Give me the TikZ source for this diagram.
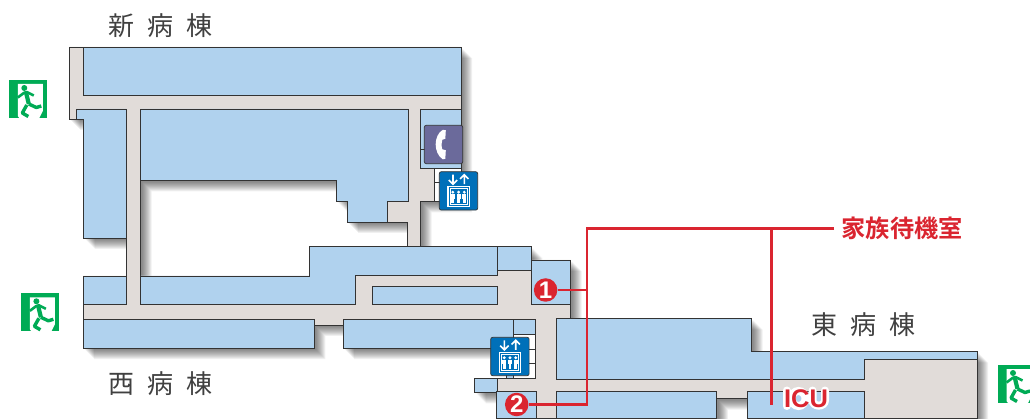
\documentclass[tikz,border=0pt]{standalone}
\usepackage{fontspec}
\newfontfamily\cjk{Noto Sans CJK JP}
\newfontfamily\cjkb{Noto Sans CJK JP Bold}
\newfontfamily\lab{Liberation Sans}[BoldFont={Liberation Sans Bold}]
\definecolor{roomblue}{HTML}{B0D2EE}
\definecolor{floorgray}{HTML}{E1DCD9}
\definecolor{wallc}{HTML}{333333}
\definecolor{markred}{HTML}{DA2530}
\definecolor{liftblue}{HTML}{0070B9}
\definecolor{phonec}{HTML}{6B6A9B}
\definecolor{exitgreen}{HTML}{00AB55}
\newcommand{\silhouette}{(69,47) -- (461,47) -- (461,201.5) -- (420.5,201.5) -- (420.5,246.7) -- (531.4,246.7) -- (531.4,260) -- (570.5,260) -- (570.5,318.3) -- (751.5,318.3) -- (751.5,351.3) -- (977,351.3) -- (977,418) -- (747.3,418) -- (747.3,398.7) -- (716.8,398.7) -- (716.8,418) -- (496.5,418) -- (496.5,392.3) -- (474.6,392.3) -- (474.6,378.3) -- (506,378.3) -- (506,348) -- (343,348) -- (343,325) -- (314.3,325) -- (314.3,348) -- (83,348) -- (83,276) -- (126,276) -- (126,238) -- (83.5,238) -- (83.5,119) -- (69,119) -- cycle
(140.5,180.5) -- (336.7,180.5) -- (336.7,201.5) -- (347,201.5) -- (347,222) -- (407,222) -- (407,246.7) -- (309.6,246.7) -- (309.6,276) -- (140.5,276) -- cycle}
\newcommand{\wingtext}[1]{\spaceskip=13pt\relax #1}
\tikzset{
  x=1pt,y=-1pt,
  room/.style={fill=roomblue,draw=wallc,line width=.9pt},
  hall/.style={fill=floorgray,draw=wallc,line width=.9pt,even odd rule},
  liftbay/.style={fill=white,draw=wallc,line width=.9pt},
  wing/.style={font=\cjk\fontsize{26}{28}\selectfont,text=black!75,inner sep=0pt},
  numdot/.style={circle,fill=markred,text=white,minimum size=23.5pt,inner sep=0pt,font=\lab\bfseries\fontsize{24}{24}\selectfont},
  leader/.style={draw=markred,line width=2.2pt},
  halo/.style={draw=white,line width=8pt,line cap=round},
  pics/exitsign/.style={code={
    \fill[exitgreen] (0,0) rectangle (38,38);
    \fill[white] (8.5,4) -- (33.5,4) -- (33.5,31) -- (30,38) -- (10,38) -- (8.5,36) -- cycle;
    \fill[exitgreen] (15,8) circle (3);
    \draw[exitgreen,line width=4.2pt] (16.5,11.5) -- (19.5,24);
    \draw[exitgreen,line width=2.6pt,line join=round] (8.5,17.5) -- (14.5,13) -- (17.5,12) -- (24.5,15.5);
    \draw[exitgreen,line width=3.4pt,line join=round] (19.5,24) -- (27,27.5) -- (32,26);
    \draw[exitgreen,line width=3.4pt,line join=round] (17.5,25) -- (13,33) -- (19,36.5);
  }},
  pics/lifticon/.style={code={
    \filldraw[fill=liftblue,draw=wallc,line width=.7pt,rounded corners=2pt] (0,0) rectangle (38.4,38.4);
    \draw[white,line width=1.6pt] (13.7,3) -- (13.7,12.5) (9.5,8.3) -- (13.7,12.5) -- (17.9,8.3);
    \draw[white,line width=1.6pt] (25,12.5) -- (25,3) (20.8,7.2) -- (25,3) -- (29.2,7.2);
    \draw[white,line width=1.2pt] (8.7,15) rectangle (30,35);
    \draw[white,line width=.6pt] (10.8,17) rectangle (27.9,33);
    \foreach \px in {13.5,19.3,25}{
      \fill[white] (\px,20.5) circle (1.6);
      \fill[white] (\px-2,22.5) rectangle (\px+2,27);
      \fill[white] (\px-1.4,27) rectangle (\px+1.4,31.5);
    }
  }},
  pics/phoneicon/.style={code={
    \filldraw[fill=phonec,draw=wallc,line width=.7pt,rounded corners=2pt] (0,0) rectangle (38.4,38.4);
    \fill[white] (18.5,4.5) -- (21.5,5) -- (21,13.5) -- (18,14.5) .. controls (17,18) and (17,20) .. (18,24) -- (21.5,25) -- (21,33.5) -- (18.5,34) .. controls (9,28) and (9,10) .. (18.5,4.5) -- cycle;
  }},
}
\begin{document}
\begin{tikzpicture}
\useasboundingbox (0,0) rectangle (1030,419);
\clip (0,0) rectangle (1030,419);
% soft shadow
\foreach \s in {2,3,...,11}{
  \fill[black,opacity=.06,even odd rule,shift={(\s,\s)}] \silhouette;
}
% floor
\path[hall] \silhouette;
% rooms of the new wing
\path[room] (83.5,47) rectangle (461,95.5);
\path[room] (76.5,109) -- (126,109) -- (126,238) -- (83.5,238) -- (83.5,119) -- (76.5,119) -- cycle;
\path[room] (140.5,109) -- (408,109) -- (408,201.5) -- (387,201.5) -- (387,222) -- (347,222) -- (347,201.5) -- (336.7,201.5) -- (336.7,180.5) -- (140.5,180.5) -- cycle;
\path[room] (420.5,109) rectangle (461,168);
\draw[wallc,line width=.9pt] (420.5,149.5) -- (426,149.5);
\path[liftbay] (434.5,168) rectangle (461,201.5);
\draw[wallc,line width=.9pt] (434.5,182.5) -- (461,182.5);
% rooms of the west wing
\path[room] (83,276) rectangle (126,304);
\path[room] (140.5,276) -- (309.6,276) -- (309.6,246.7) -- (497,246.7) -- (497,275) -- (355.7,275) -- (355.7,304) -- (140.5,304) -- cycle;
\path[room] (497,246.7) rectangle (531.4,270);
\path[room] (372.5,286) rectangle (497,304);
\path[room] (531.5,260) rectangle (570.5,304);
\path[room] (83,319.3) rectangle (314.3,348);
\path[room] (343,319.3) rectangle (513.6,348);
\path[room] (513.6,319.3) rectangle (535.7,334);
\path[liftbay] (513.6,334) rectangle (535.7,378.3);
\draw[wallc,line width=.9pt] (513.6,349.3) -- (535.7,349.3) (513.6,363.3) -- (535.7,363.3);
\path[room] (506,348) rectangle (513.6,378.3);
\path[room] (474.6,378.3) rectangle (497,392.3);
\path[room] (496.5,391.7) rectangle (536.8,418);
% rooms of the east wing
\path[room] (556,318.3) -- (751.5,318.3) -- (751.5,351.3) -- (977,351.3) -- (977,359.3) -- (864.8,359.3) -- (864.8,379) -- (556,379) -- cycle;
\path[room] (556,391.7) rectangle (716.8,418);
\path[room] (747.3,391.7) rectangle (864.8,418);
% icons
\pic at (424.3,125.3) {phoneicon};
\pic at (439.3,171.7) {lifticon};
\pic at (490.7,337.3) {lifticon};
\pic at (9.3,80) {exitsign};
\pic at (21.4,293.3) {exitsign};
\pic at (998,365) {exitsign};
% wing names
\node[wing] (newwing) at (160,26) {\wingtext{新 病 棟}};
\node[wing] (westwing) at (160,384) {\wingtext{西 病 棟}};
\node[wing] (eastwing) at (863,325) {\wingtext{東 病 棟}};
% family waiting room leaders
\node[anchor=west,inner sep=0pt,text=markred,font=\cjkb\fontsize{24.2}{26}\selectfont] (fam) at (841.5,228) {家族待機室};
\node[numdot] (one) at (545.6,290) {1};
\node[numdot] (two) at (516.7,404.5) {2};
\coordinate (famstart) at (834,228.5);
\coordinate (corner) at (587,228.5);
\coordinate (branch) at (771.5,228.5);
\coordinate (icuend) at (771.5,404.7);
\coordinate (onejoin) at (587,290);
\coordinate (twojoin) at (587,404.5);
\draw[leader] (famstart) -- (corner) -- (twojoin) -- (two);
\draw[leader] (one) -- (onejoin);
\draw[leader] (branch) -- (icuend);
% white halo behind the ICU letters
\draw[halo] (786.5,390.5) -- (786.5,406);
\draw[halo] (798.5,398.5) ellipse (7 and 7.5);
\draw[halo] (812.5,390.5) -- (812.5,400) .. controls (812.5,407.5) and (825,407.5) .. (825,400) -- (825,390.5);
\node[inner sep=0pt,text=markred,font=\lab\bfseries\fontsize{25.5}{26}\selectfont] (icu) at (806,398.5) {ICU};
\end{tikzpicture}
\end{document}
